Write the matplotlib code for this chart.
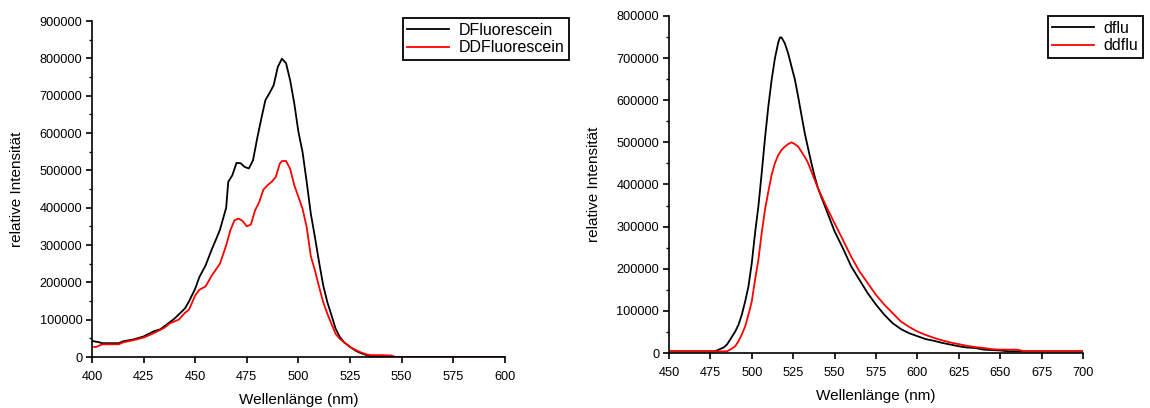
import numpy as np
from matplotlib import pyplot as plt
from matplotlib.ticker import MultipleLocator

plt.rcParams["font.family"] = ["Liberation Sans", "DejaVu Sans"]

# absorption spectra (left panel)
wl_dfl = [400, 403, 405, 410, 413, 415, 420, 425, 430, 433, 435, 440, 445, 447,
          450, 452, 455, 458, 460, 462, 465, 466, 468, 470, 472, 474, 476, 478,
          480, 482, 484, 486, 488, 490, 492, 494, 496, 498, 500, 502, 504, 506,
          508, 510, 512, 514, 516, 518, 520, 522, 525, 528, 530, 533, 535, 540,
          545, 600]
dfluorescein = [43000, 40000, 37000, 37000, 37000, 42000, 47000, 55000, 69000,
                74000, 82000, 103000, 130000, 149000, 183000, 214000, 245000,
                288000, 314000, 341000, 400000, 469000, 487000, 520000, 519000,
                509000, 505000, 527000, 585000, 638000, 688000, 707000, 728000,
                777000, 799000, 787000, 741000, 679000, 603000, 549000, 469000,
                384000, 321000, 254000, 192000, 147000, 112000, 76000, 54000,
                40000, 27000, 16000, 11000, 5000, 2000, 2000, 0, 0]

wl_ddfl = [400, 402, 405, 410, 413, 415, 420, 425, 430, 435, 438, 442, 445, 447,
           450, 452, 455, 458, 460, 462, 465, 467, 469, 471, 473, 475, 477, 479,
           481, 483, 485, 487, 489, 491, 492, 494, 496, 498, 500, 502, 504, 506,
           508, 510, 512, 514, 516, 518, 520, 522, 525, 528, 530, 533, 535, 540,
           545, 547, 600]
ddfluorescein = [27000, 27000, 34000, 34000, 34000, 39000, 45000, 52000, 64000,
                 78000, 91000, 100000, 118000, 127000, 165000, 180000, 189000,
                 218000, 234000, 250000, 299000, 339000, 366000, 371000, 364000,
                 350000, 355000, 393000, 415000, 448000, 460000, 469000, 482000,
                 518000, 525000, 525000, 504000, 460000, 429000, 397000, 348000,
                 270000, 232000, 188000, 147000, 116000, 89000, 62000, 49000,
                 40000, 27000, 18000, 13000, 7000, 5000, 5000, 4000, 0, 0]

# emission spectra (right panel)
wl_dflu = [450, 478, 480, 483, 485, 487, 490, 492, 494, 496, 498, 500, 502, 504,
           506, 508, 510, 512, 514, 516, 517, 518, 520, 522, 524, 526, 528, 530,
           532, 534, 536, 538, 540, 545, 550, 555, 560, 565, 570, 575, 580, 585,
           590, 595, 600, 605, 610, 615, 620, 625, 630, 635, 640, 650, 655, 700]
dflu = [4000, 4000, 8000, 13000, 20000, 32000, 51000, 67000, 91000, 122000,
        158000, 213000, 285000, 348000, 427000, 510000, 585000, 648000, 700000,
        737000, 749000, 749000, 735000, 711000, 680000, 650000, 609000, 565000,
        522000, 486000, 451000, 419000, 391000, 340000, 289000, 249000, 206000,
        174000, 142000, 115000, 91000, 71000, 57000, 47000, 40000, 33000, 29000,
        24000, 20000, 16000, 13000, 12000, 8000, 6000, 4000, 4000]

wl_ddflu = [450, 485, 487, 490, 492, 494, 496, 498, 500, 502, 504, 506, 508, 510,
            512, 514, 516, 518, 520, 522, 524, 526, 528, 530, 532, 534, 536, 538,
            540, 545, 550, 555, 560, 565, 570, 575, 580, 585, 590, 595, 600, 605,
            610, 615, 620, 625, 630, 635, 640, 645, 650, 660, 665, 700]
ddflu = [4000, 4000, 8000, 16000, 28000, 44000, 63000, 91000, 122000, 174000,
         221000, 285000, 340000, 383000, 423000, 451000, 470000, 482000, 490000,
         496000, 500000, 496000, 490000, 478000, 466000, 451000, 431000, 411000,
         391000, 348000, 308000, 269000, 229000, 194000, 166000, 138000, 115000,
         95000, 75000, 62000, 51000, 43000, 36000, 30000, 25000, 21000, 17000,
         14000, 12000, 9000, 8000, 8000, 4000, 4000]


def style_axes(ax, ymax):
    for side in ["top", "right"]:
        ax.spines[side].set_visible(False)
    for side in ["left", "bottom"]:
        ax.spines[side].set_linewidth(1.2)
    ax.set_ylim(0, ymax)
    ax.yaxis.set_major_locator(MultipleLocator(100000))
    ax.yaxis.set_minor_locator(MultipleLocator(50000))
    ax.xaxis.set_major_locator(MultipleLocator(25))
    ax.tick_params(which="major", length=4, width=1.2, labelsize=9.2, pad=3)
    ax.tick_params(axis="x", which="major", pad=6)
    ax.tick_params(which="minor", length=2.5, width=1.0)
    ax.set_xlabel("Wellenlänge (nm)", fontsize=11, labelpad=7)
    ax.set_ylabel("relative Intensität", fontsize=11, labelpad=11)


def add_legend(ax, anchor):
    leg = ax.legend(loc="upper right", bbox_to_anchor=anchor,
                    bbox_transform=fig.transFigure, fontsize=11.5,
                    fancybox=False, edgecolor="black", framealpha=1,
                    handlelength=2.6, handletextpad=0.6, borderpad=0.3,
                    labelspacing=0.15, borderaxespad=0)
    leg.get_frame().set_linewidth(1.3)


fig = plt.figure(figsize=(11.5, 4.08), dpi=100)

ax1 = fig.add_axes([0.080, 0.125, 0.359, 0.8235])
ax1.plot(wl_dfl, dfluorescein, color="black", lw=1.3, label="DFluorescein")
ax1.plot(wl_ddfl, ddfluorescein, color="red", lw=1.3, label="DDFluorescein")
ax1.set_xlim(400, 600)
style_axes(ax1, 900000)
add_legend(ax1, (0.4948, 0.9559))

ax2 = fig.add_axes([0.5817, 0.1348, 0.360, 0.826])
ax2.plot(wl_dflu, dflu, color="black", lw=1.3, label="dflu")
ax2.plot(wl_ddflu, ddflu, color="red", lw=1.3, label="ddflu")
ax2.set_xlim(450, 700)
style_axes(ax2, 800000)
add_legend(ax2, (0.9939, 0.9608))

plt.savefig("out.png", dpi=100)
